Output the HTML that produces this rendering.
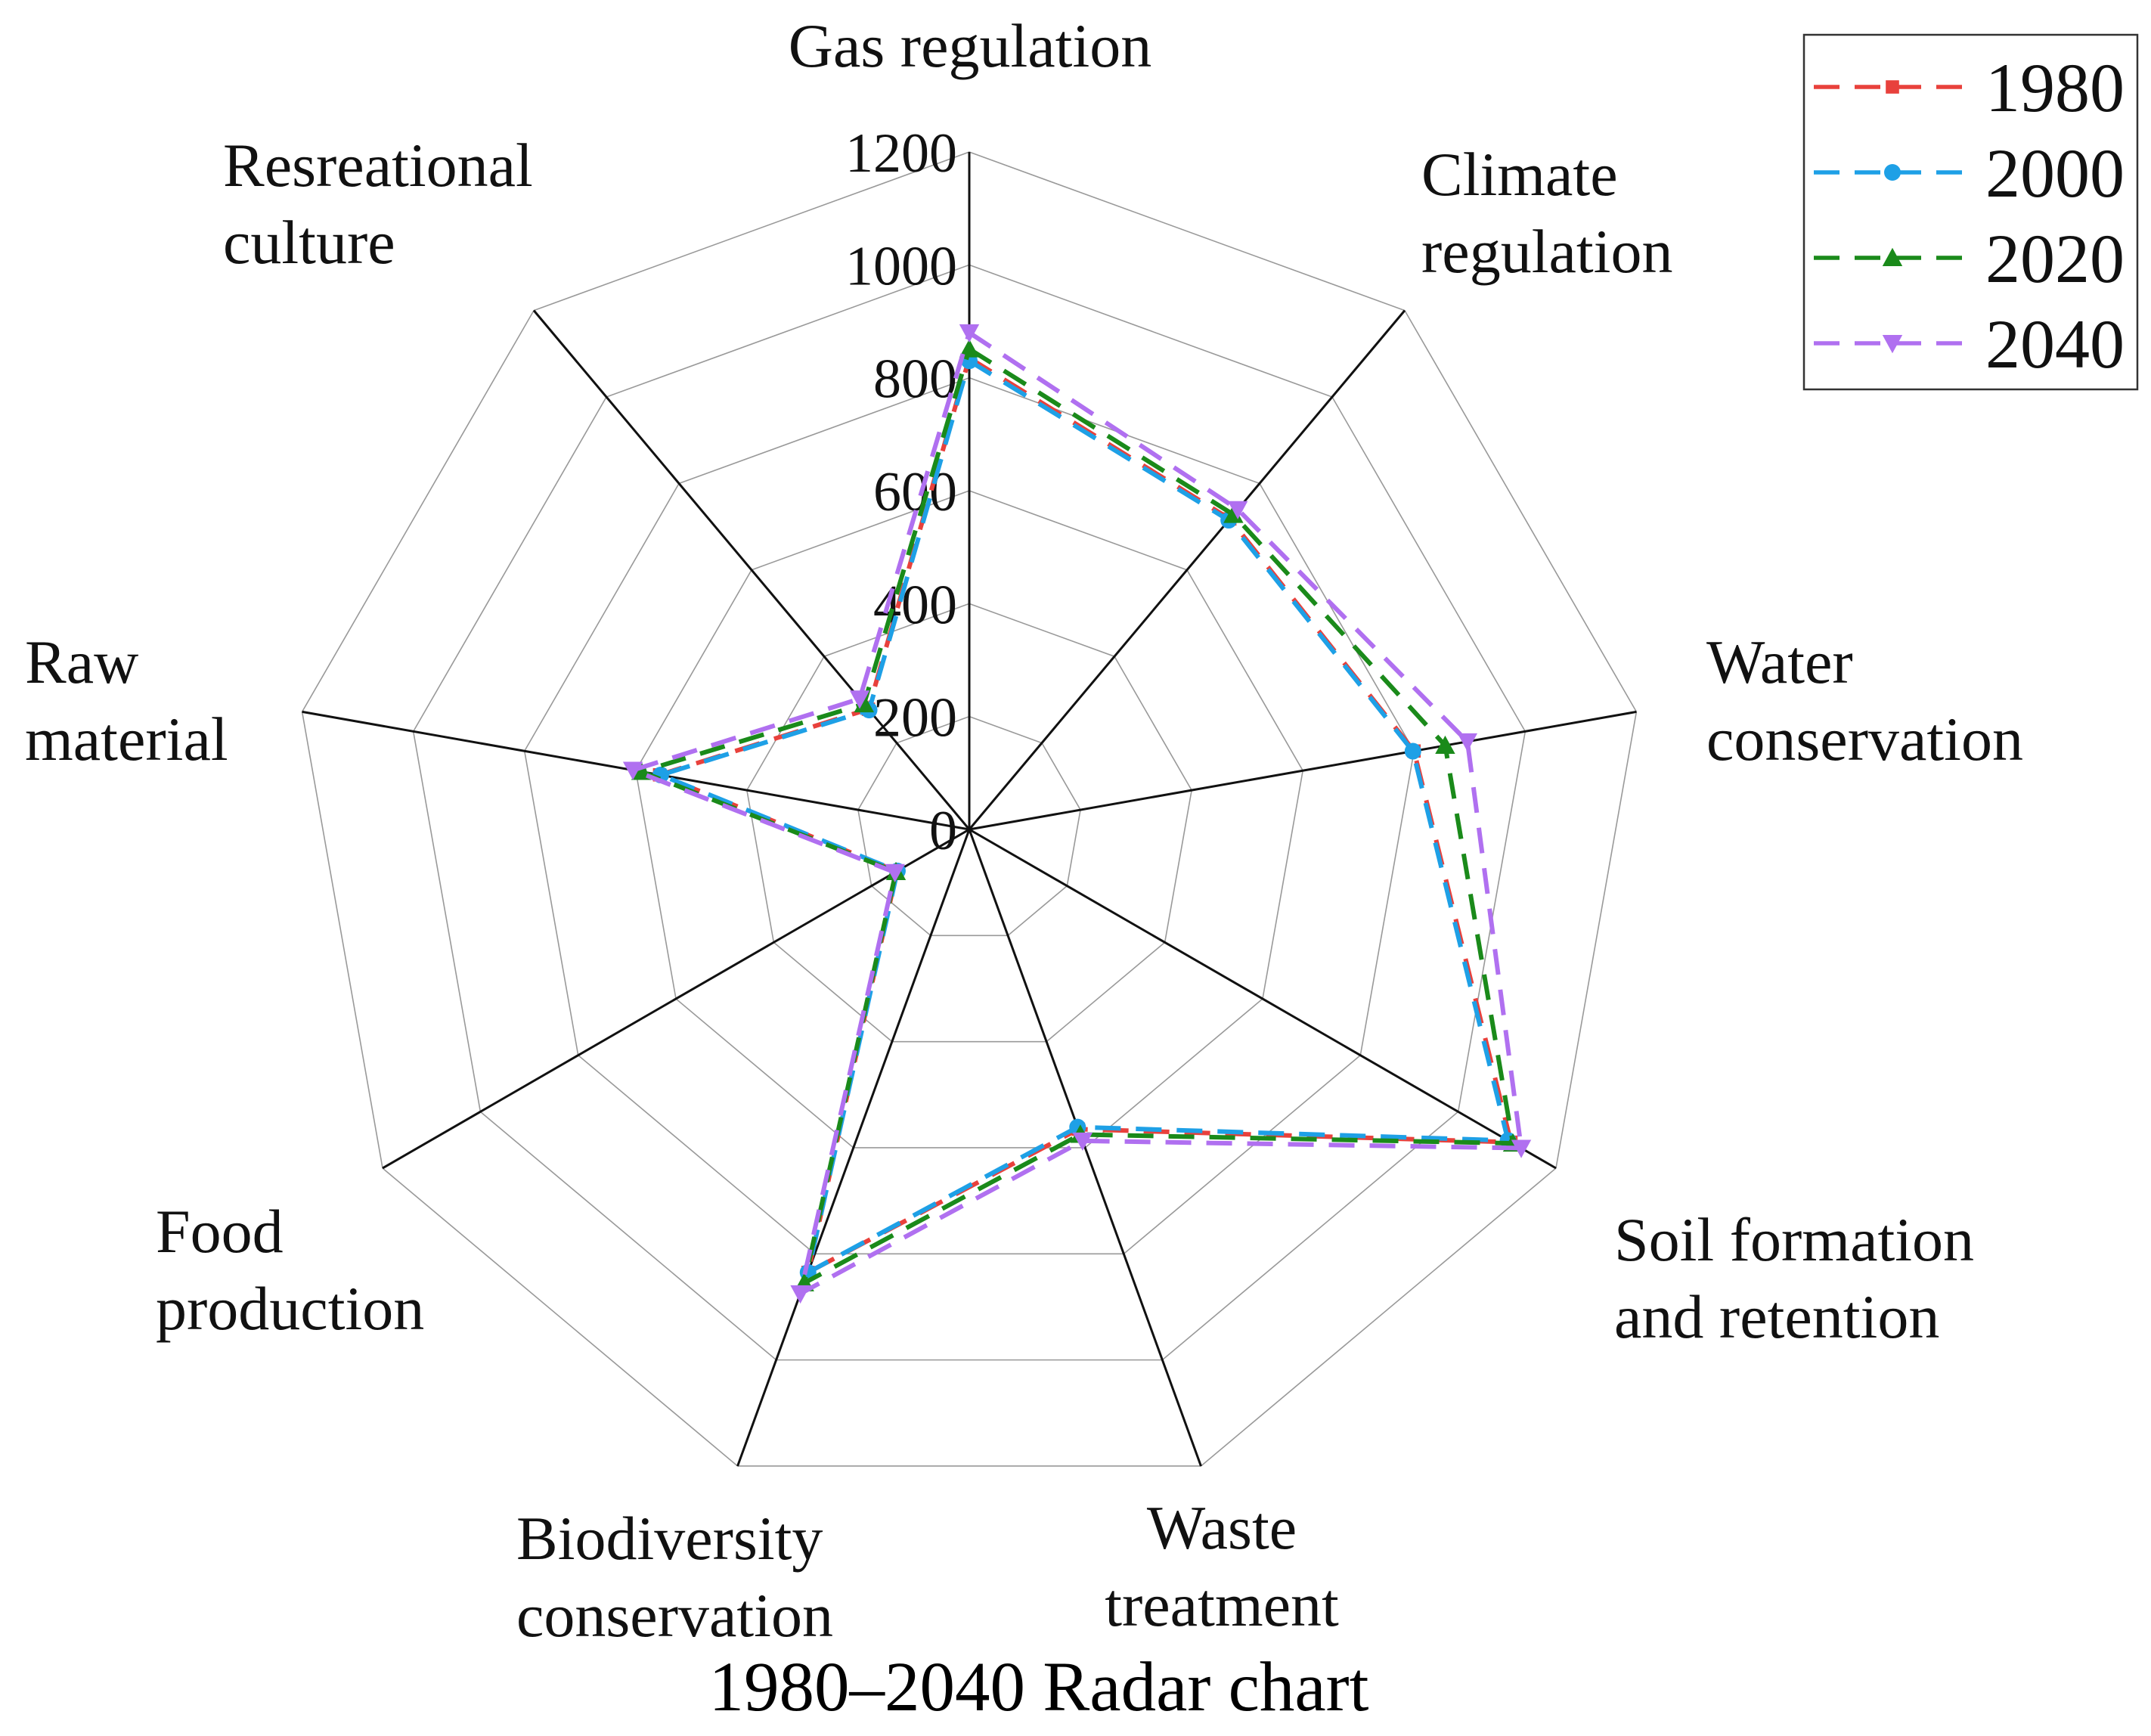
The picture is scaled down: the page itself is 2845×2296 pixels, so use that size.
<!DOCTYPE html>
<html><head><meta charset="utf-8"><style>
html,body{margin:0;padding:0;background:#fff;}
svg{display:block;font-family:"Liberation Serif",serif;}
</style></head><body>
<svg id="chart" width="2845" height="2296" viewBox="0 0 2845 2296" xmlns="http://www.w3.org/2000/svg">
<g id="grid"></g>
<g id="ticks"></g>
<g id="series"></g>
<g id="cats"></g>
<text x="1374" y="2262" font-size="93" text-anchor="middle">1980–2040 Radar chart</text>
<g id="legend">
<rect x="2386" y="46" width="441" height="469" fill="#fff" stroke="#333" stroke-width="2.5"/>
</g>
</svg>
<script>
const categories=[["Gas regulation"],["Climate","regulation"],["Water","conservation"],["Soil formation","and retention"],["Waste","treatment"],["Biodiversity","conservation"],["Food","production"],["Raw","material"],["Resreational","culture"]];
const seriesNames=["1980","2000","2020","2040"];
const v1980=[835,718,800,1108,565,835,148,557,278];
const v2000=[830,715,798,1102,561,835,147,555,276];
const v2020=[851,728,856,1112,575,855,150,590,290];
const v2040=[880,740,896,1129,587,875,152,605,302];
const tickValues=[0,200,400,600,800,1000,1200];
const tickLabels=["0","200","400","600","800","1000","1200"];
const maxV=1200;
const colors=["#e8413c","#1ea0e6","#1a8a1a","#b070f0"];
const markers=["square","circle","up","down"];
const allSeries=[v1980,v2000,v2020,v2040];

const NS="http://www.w3.org/2000/svg";
const cx=1282,cy=1097,R=896;
function rScale(v){return v/maxV*R;}
function pt(i,v){const a=(i*360/categories.length)*Math.PI/180;const r=rScale(v);return [cx+r*Math.sin(a),cy-r*Math.cos(a)];}
function mk(tag,attrs,parent){const e=document.createElementNS(NS,tag);for(const k in attrs)e.setAttribute(k,attrs[k]);parent.appendChild(e);return e;}
const grid=document.getElementById('grid');
tickValues.slice(1).forEach((t,ti)=>{
  const pts=categories.map((c,i)=>pt(i,t).join(',')).join(' ');
  const p=mk('polygon',{points:pts,fill:'none',stroke:'#999','stroke-width':1.6},grid);
  
  
});
categories.forEach((c,i)=>{
  const [x,y]=pt(i,maxV);
  const l=mk('line',{x1:cx,y1:cy,x2:x,y2:y,stroke:'#111','stroke-width':3},grid);
  
  
});
const ticks=document.getElementById('ticks');
tickValues.forEach((t,ti)=>{
  const [x,y]=pt(0,t);
  const e=mk('text',{x:x-16,y:y+26,'font-size':74,'text-anchor':'end',fill:'#111'},ticks);
  e.textContent=tickLabels[ti];
  
  
});
const sg=document.getElementById('series');
allSeries.forEach((vals,si)=>{
  const g=mk('g',{},sg);
  
  
  const pts=vals.map((v,i)=>pt(i,v).join(',')).join(' ');
  const p=mk('polygon',{points:pts,fill:'none',stroke:colors[si],'stroke-width':6,'stroke-dasharray':'34 20'},g);
  
  
  vals.forEach((v,i)=>{
    const [x,y]=pt(i,v);
    const m=drawMarker(markers[si],x,y,colors[si],g);
    
    
  });
});
function drawMarker(type,x,y,col,parent){
  const s=11;
  if(type==='square')return mk('rect',{x:x-s*0.8,y:y-s*0.8,width:s*1.6,height:s*1.6,fill:col},parent);
  if(type==='circle')return mk('circle',{cx:x,cy:y,r:s,fill:col},parent);
  if(type==='up')return mk('polygon',{points:`${x},${y-s*1.2} ${x-s*1.2},${y+s} ${x+s*1.2},${y+s}`,fill:col},parent);
  return mk('polygon',{points:`${x},${y+s*1.2} ${x-s*1.2},${y-s} ${x+s*1.2},${y-s}`,fill:col},parent);
}
const labelPos=[[1283,88,'middle'],[1880,258,'start'],[2257,903,'start'],[2135,1667,'start'],[1616,2048,'middle'],[683,2062,'start'],[206,1656,'start'],[33,903,'start'],[295,246,'start']];
const cg=document.getElementById('cats');
categories.forEach((lines,i)=>{
  const [x,y,anc]=labelPos[i];
  lines.forEach((ln,k)=>{
    const e=mk('text',{x:x,y:y+k*102,'font-size':82,'text-anchor':anc,fill:'#111'},cg);
    e.textContent=ln;
    
    
  });
});
const lg=document.getElementById('legend');
seriesNames.forEach((n,si)=>{
  const y=115+si*113;
  const g=mk('g',{},lg);
  
  
  mk('line',{x1:2399,y1:y,x2:2607,y2:y,stroke:colors[si],'stroke-width':5.5,'stroke-dasharray':'34 20'},g);
  drawMarker(markers[si],2503,y,colors[si],g);
  const t=mk('text',{x:2626,y:y+32,'font-size':92,fill:'#111'},g);
  t.textContent=n;
});
</script>
</body></html>
